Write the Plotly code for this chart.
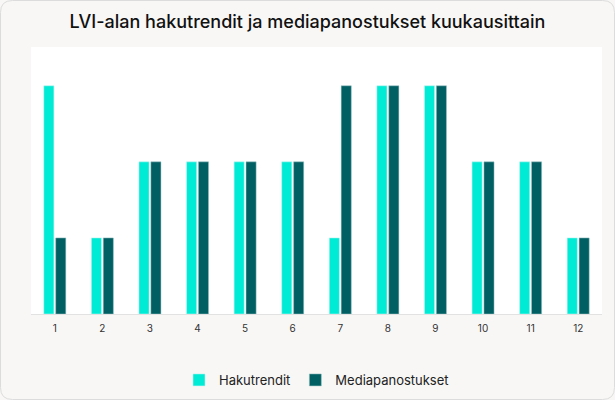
import plotly.graph_objects as go

MONTHS = ["1", "2", "3", "4", "5", "6", "7", "8", "9", "10", "11", "12"]
HAKUTRENDIT = [3, 1, 2, 2, 2, 2, 1, 3, 3, 2, 2, 1]
MEDIAPANOSTUKSET = [1, 1, 2, 2, 2, 2, 3, 3, 3, 2, 2, 1]

W, H = 615, 400
L, R, T, B = 31, 13, 47, 86
PW, PH = W - L - R, H - T - B


def card_path(rad=12):
    # rounded card border in paper coordinates
    def px(x):
        return (x - L) / PW

    def py(y):
        return (H - B - y) / PH

    x0, x1, y0, y1 = 0.5, W - 0.5, 0.5, H - 0.5
    return (
        f"M {px(x0 + rad)},{py(y0)} L {px(x1 - rad)},{py(y0)} "
        f"Q {px(x1)},{py(y0)} {px(x1)},{py(y0 + rad)} "
        f"L {px(x1)},{py(y1 - rad)} Q {px(x1)},{py(y1)} {px(x1 - rad)},{py(y1)} "
        f"L {px(x0 + rad)},{py(y1)} Q {px(x0)},{py(y1)} {px(x0)},{py(y1 - rad)} "
        f"L {px(x0)},{py(y0 + rad)} Q {px(x0)},{py(y0)} {px(x0 + rad)},{py(y0)} Z"
    )


fig = go.Figure()
fig.add_bar(
    x=MONTHS, y=HAKUTRENDIT, name="Hakutrendit",
    marker=dict(color="#00EBD6", line=dict(color="#c8f5f0", width=0.5)),
)
fig.add_bar(
    x=MONTHS, y=MEDIAPANOSTUKSET, name="Mediapanostukset",
    marker=dict(color="#005F63", line=dict(color="#9cc4c6", width=0.5)),
)

fig.add_shape(
    type="path", xref="paper", yref="paper", path=card_path(),
    line=dict(color="#dcdcdc", width=1), layer="below",
)

fig.update_layout(
    autosize=False,
    width=W,
    height=H,
    margin=dict(l=L, r=R, t=T, b=B, autoexpand=False),
    paper_bgcolor="#F8F7F5",
    plot_bgcolor="#FFFFFF",
    font=dict(family="Inter, Noto Sans, sans-serif", color="#222222"),
    title=dict(
        text="LVI-alan hakutrendit ja mediapanostukset kuukausittain",
        x=0.5, xanchor="center", y=1 - 22 / H, yanchor="middle",
        font=dict(size=18, color="#111111", weight=500),
    ),
    barmode="group",
    bargap=0.5,
    bargroupgap=0.15,
    showlegend=True,
    legend=dict(
        orientation="h", x=0.5, xanchor="center",
        yref="container", y=1 - 380 / H, yanchor="middle",
        font=dict(size=13, color="#222222"), bgcolor="rgba(0,0,0,0)",
        itemwidth=30,
    ),
)
fig.update_xaxes(
    showgrid=False, showline=True, linecolor="#e2e2e2", linewidth=1,
    ticks="", ticklabelstandoff=5, tickfont=dict(size=10, color="#333333"),
)
fig.update_yaxes(
    range=[0, 3.51], showgrid=False, showticklabels=False, zeroline=False,
)

fig.write_html(
    "out.html",
    config={"displayModeBar": False, "responsive": False},
    post_script=(
        "document.body.style.margin='0';"
        "document.body.style.overflow='hidden';"
    ),
)
